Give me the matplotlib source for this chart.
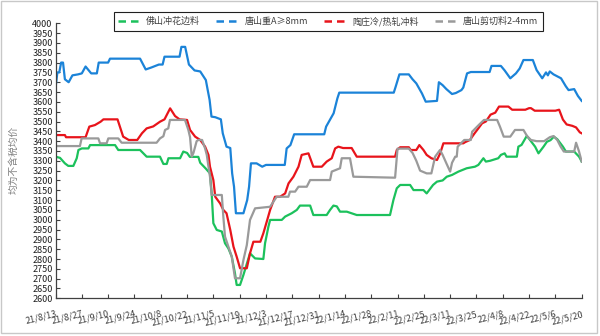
import matplotlib
matplotlib.use("Agg")
import matplotlib.pyplot as plt
from matplotlib.lines import Line2D
import pandas as pd

plt.rcParams['font.family'] = ['Noto Sans CJK SC', 'DejaVu Sans']

start_date = "2021-08-13"
tick_labels = ["21/8/13", "21/8/27", "21/9/10", "21/9/24", "21/10/8", "21/10/22", "21/11/5",
               "21/11/19", "21/12/3", "21/12/17", "21/12/31", "22/1/14", "22/1/28", "22/2/11",
               "22/2/25", "22/3/11", "22/3/25", "22/4/8", "22/4/22", "22/5/6", "22/5/20"]
series_names = ["佛山冲花边料", "唐山重A≥8mm", "陶庄冷/热轧冲料", "唐山剪切料2-4mm"]

# day offsets from start_date and prices
green_days = [0, 2.4, 5, 6.8, 9.5, 11.3, 12.2, 14, 17.5, 18.4, 31.7, 33.4, 45, 48.5, 55.6, 57.4, 59.2,
              60.1, 66.3, 68, 70, 71.5, 76, 77, 80, 82.2, 83.1, 84, 85.8, 88.5, 90.2, 92, 93.8, 95.5,
              96.4, 98.2, 100, 103.5, 106.2, 110.6, 111.5, 113.3, 114.2, 120.4, 122.2, 125.7, 128.4,
              130.1, 135.5, 137.2, 144.3, 146.1, 147.9, 149.7, 151.4, 155, 160.3, 178, 179.8, 181.6,
              183.4, 188.7, 190.5, 195.8, 197.5, 200.9, 203, 206, 208.2, 211, 214.4, 218.8, 223.2,
              225, 227.7, 229, 231.2, 235.6, 237, 239, 240, 245.5, 246.3, 248, 250.8, 252.5, 255.2,
              257, 259.7, 261.5, 263.4, 265.2, 267, 270, 271.6, 276, 278.6, 280]
green_vals = [3321, 3315, 3287, 3274, 3274, 3313, 3355, 3363, 3363, 3380, 3380, 3355, 3355, 3321, 3321,
              3284, 3284, 3313, 3313, 3347, 3340, 3320, 3320, 3290, 3260, 3236, 3134, 2982, 2948, 2940,
              2880, 2854, 2812, 2727, 2668, 2668, 2719, 2829, 2803, 2800, 2880, 2965, 2999, 2999, 3016,
              3033, 3050, 3072, 3072, 3024, 3024, 3050, 3072, 3068, 3041, 3041, 3024, 3024, 3100, 3160,
              3177, 3177, 3151, 3151, 3134, 3177, 3194, 3200, 3219, 3228, 3245, 3262, 3270, 3279, 3313,
              3296, 3300, 3313, 3330, 3338, 3321, 3321, 3372, 3381, 3427, 3406, 3372, 3338, 3372, 3397,
              3405, 3423, 3410, 3372, 3347, 3347, 3321, 3296]

blue_days = [0, 1, 2, 3, 4, 5, 7, 9, 12, 14, 16, 19, 22, 23, 28, 29, 45, 48, 51, 55, 57, 58, 66, 67,
             69, 71, 74, 77, 80, 81, 82, 83, 85, 88, 89, 91, 93, 94, 95, 96, 100, 102, 103, 104, 107,
             110, 112, 122, 123, 125, 127, 143, 144, 148, 150, 151, 180, 181, 183, 188, 190, 192, 195,
             197, 203, 204, 206, 208, 211, 213, 216, 217, 219, 221, 231, 232, 237, 239, 242, 245, 247,
             249, 254, 256, 259, 261, 262, 263, 265, 267, 269, 271.5, 273, 276, 278, 280]
blue_vals = [3670, 3750, 3750, 3800, 3800, 3715, 3700, 3735, 3740, 3745, 3780, 3745, 3745, 3800, 3800,
             3820, 3820, 3765, 3775, 3790, 3790, 3830, 3830, 3880, 3880, 3790, 3760, 3755, 3711, 3660,
             3610, 3525, 3522, 3511, 3440, 3372, 3365, 3236, 3168, 3033, 3033, 3100, 3168, 3287, 3287,
             3270, 3279, 3279, 3363, 3380, 3435, 3435, 3474, 3542, 3618, 3647, 3647, 3677, 3740, 3740,
             3715, 3694, 3643, 3601, 3605, 3700, 3685, 3665, 3640, 3645, 3660, 3673, 3745, 3752, 3752,
             3783, 3783, 3760, 3720, 3745, 3770, 3813, 3813, 3762, 3720, 3750, 3735, 3755, 3740, 3730,
             3720, 3680, 3660, 3665, 3630, 3605]

red_days = [0, 5, 5.6, 16, 18, 21, 24, 25.5, 33, 36, 39, 43.5, 46, 48.5, 52, 55.6, 58, 61, 63.6, 66,
            70, 71.6, 74.3, 77, 79.6, 81.4, 82.2, 84, 85, 87.6, 89.3, 91, 93, 94.7, 96.4, 98.2, 101.8,
            103.5, 105.3, 109, 110.6, 112.4, 114.2, 116.8, 119.5, 122.2, 124, 126.6, 129.3, 131, 134.6,
            137.2, 141.7, 144.3, 147, 148.8, 150.5, 153, 157.6, 160.3, 180.7, 181.6, 183.4, 188, 189,
            192, 193.6, 195.8, 197.5, 200, 203, 204.7, 206.4, 217, 218, 220.5, 223, 225, 227, 229,
            231.5, 234, 236, 241, 243, 250, 252, 253, 255, 266, 268, 270, 272, 275, 277, 279, 280]
red_vals = [3431, 3431, 3420, 3420, 3474, 3482, 3499, 3511, 3511, 3423, 3406, 3406, 3440, 3465, 3475,
            3499, 3511, 3567, 3528, 3511, 3508, 3457, 3423, 3406, 3372, 3330, 3270, 3202, 3117, 3083,
            3050, 3033, 2948, 2863, 2812, 2753, 2753, 2829, 2888, 2888, 2931, 2990, 3050, 3117, 3117,
            3134, 3185, 3219, 3270, 3330, 3338, 3270, 3270, 3296, 3313, 3363, 3372, 3365, 3365, 3321,
            3321, 3355, 3369, 3369, 3355, 3355, 3380, 3355, 3330, 3313, 3304, 3338, 3389, 3389, 3395,
            3406, 3440, 3465, 3491, 3500, 3535, 3545, 3576, 3576, 3560, 3560, 3568, 3568, 3555, 3555,
            3560, 3510, 3485, 3478, 3470, 3445, 3440]

gray_days = [0, 13, 13.9, 22.8, 23.7, 27.2, 28.1, 33.4, 35.2, 53.8, 55.6, 57.4, 58.3, 60, 60.9, 68.9,
             70.7, 71.6, 72.5, 73.4, 75.1, 76, 78, 79.6, 80.5, 81.4, 82.2, 83.1, 88.5, 89.3, 90.2, 92,
             93.8, 95.5, 98.2, 100, 101.8, 103.5, 106.2, 114.2, 117.7, 123.9, 124.8, 127.5, 129.3,
             133.7, 135.5, 146.1, 147, 151.4, 152.3, 156.7, 158.5, 180.7, 182, 188, 190, 192, 194,
             197.5, 200, 202, 204.6, 206, 208, 210, 211, 212.7, 213.5, 214, 217.5, 221, 221.7, 225.3,
             228, 235, 236.5, 238.5, 242, 244.5, 249, 251, 253, 256, 260, 263, 265, 267, 268.8, 270.5,
             276, 277, 278.5, 280]
gray_vals = [3375, 3375, 3414, 3414, 3389, 3389, 3414, 3414, 3392, 3392, 3414, 3425, 3457, 3465, 3508,
             3508, 3457, 3420, 3321, 3340, 3400, 3406, 3406, 3363, 3330, 3270, 3219, 3126, 3126, 3016,
             2914, 2863, 2812, 2702, 2702, 2795, 2871, 2999, 3058, 3066, 3117, 3117, 3143, 3143, 3168,
             3168, 3202, 3202, 3245, 3262, 3313, 3313, 3219, 3214, 3362, 3362, 3340, 3300, 3250, 3236,
             3236, 3321, 3355, 3330, 3287, 3245, 3290, 3321, 3321, 3372, 3406, 3406, 3448, 3483, 3508,
             3508, 3474, 3423, 3423, 3457, 3457, 3425, 3406, 3400, 3400, 3420, 3426, 3406, 3372, 3347,
             3347, 3392, 3350, 3296]

colors = ["#1CC15C", "#1B83D8", "#E8141B", "#9A9A9A"]

fig = plt.figure(figsize=(6, 3.36), dpi=100)
fig.patch.set_facecolor("white")
ax = fig.add_axes([55.5 / 600, 1 - 298.3 / 336, (581.7 - 55.5) / 600, (298.3 - 23.3) / 336])

t0 = pd.Timestamp(start_date)
def to_dates(days):
    return t0 + pd.to_timedelta(days, unit="D")

all_days = [green_days, blue_days, red_days, gray_days]
all_vals = [green_vals, blue_vals, red_vals, gray_vals]
for d, v, c in zip(all_days, all_vals, colors):
    ax.plot(to_dates(d), v, color=c, lw=1.6, solid_joinstyle="round")

tick_dates = [pd.to_datetime(s, format="%y/%m/%d") for s in tick_labels]
ax.set_xticks(tick_dates)
ax.set_xticklabels(tick_labels, rotation=14, ha="right", rotation_mode="anchor", fontsize=6.5,
                   color="#404040")
ax.set_xlim(tick_dates[0], tick_dates[-1])
ax.set_ylim(2600, 4000)
yt = list(range(2600, 4001, 50))
ax.set_yticks(yt)
ax.set_yticklabels([str(v) for v in yt], fontsize=6.5, color="#202020")
ax.tick_params(axis="both", direction="in", length=3, width=0.8, color="#404040")
ax.tick_params(axis="x", pad=8)
ax.tick_params(axis="y", pad=2)
for s in ["top", "right"]:
    ax.spines[s].set_visible(False)
for s in ["left", "bottom"]:
    ax.spines[s].set_color("#404040")
    ax.spines[s].set_linewidth(0.9)

fig.text(14 / 600, 1 - 160 / 336, "均为不含税均价", rotation=90, ha="center", va="center",
         fontsize=7, color="#7F7F7F")

handles = [Line2D([0], [0], color=c, lw=1.8, dashes=(3, 2)) for c in colors]
leg = fig.legend(handles, series_names, loc="upper center", bbox_to_anchor=(0.547, 0.972), ncol=4,
                 fontsize=6.5, frameon=True, fancybox=False, framealpha=1, edgecolor="#202020",
                 handlelength=2.6, handletextpad=0.5, columnspacing=1.8, borderpad=0.5,
                 borderaxespad=0.3)
leg.get_frame().set_linewidth(0.8)
for txt in leg.get_texts():
    txt.set_color("#404040")

fig.add_artist(plt.Rectangle((0.001, 0.008), 0.994, 0.99, transform=fig.transFigure, fill=False,
                             edgecolor="#C8C8C8", lw=1))

fig.savefig("out.png", dpi=100)
